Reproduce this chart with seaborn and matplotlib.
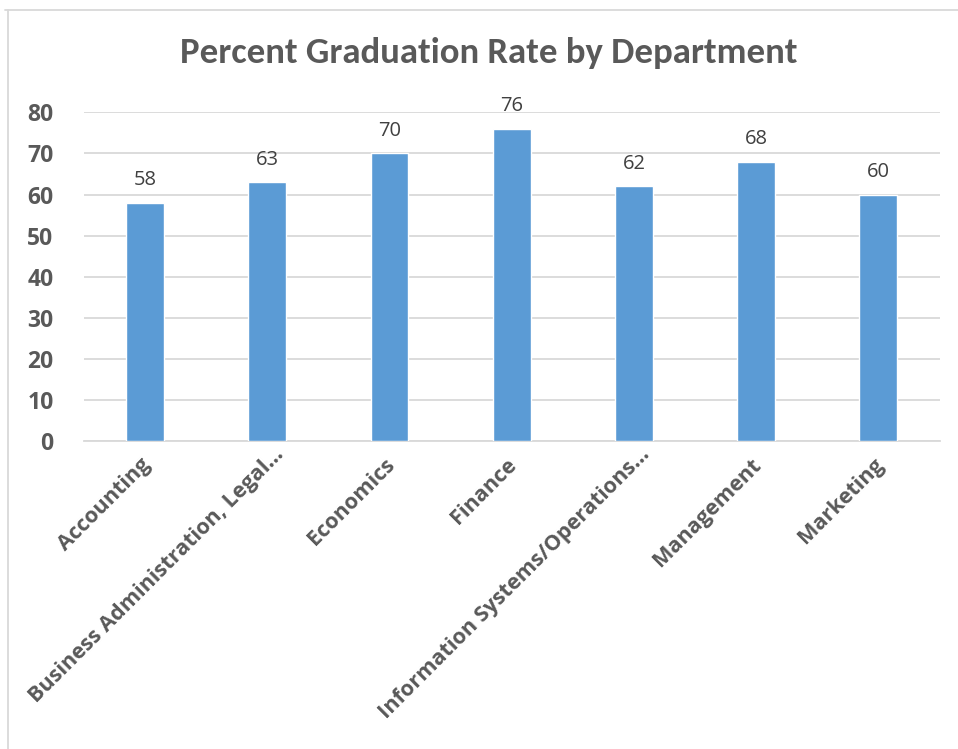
import matplotlib
matplotlib.use("Agg")
import matplotlib.pyplot as plt
import matplotlib.transforms as mtransforms
import seaborn as sns
import pandas as pd
from matplotlib.lines import Line2D

departments = ["Accounting", "Business Administration, Legal…", "Economics", "Finance",
               "Information Systems/Operations…", "Management", "Marketing"]
rates = [58, 63, 70, 76, 62, 68, 60]
y_ticks = [0, 10, 20, 30, 40, 50, 60, 70, 80]

df = pd.DataFrame({"Department": departments, "Rate": rates})

sns.set_theme(style="white")
plt.rcParams['font.family'] = ['Open Sans', 'DejaVu Sans']

TXT = "#595959"
fig = plt.figure(figsize=(9.58, 7.49), dpi=100)
ax = fig.add_axes([0.0877, 0.411, 0.893, 0.439])

sns.barplot(data=df, x="Department", y="Rate", color="#5B9BD5", saturation=1,
            width=0.31, ax=ax, zorder=3)

ax.set_ylim(0, 80)
ax.set_xlim(-0.5, len(departments) - 0.5)
ax.set_yticks(y_ticks)
ax.yaxis.grid(True, color="#D9D9D9", linewidth=1.3, zorder=0)
ax.set_axisbelow(True)
for s in ["top", "right", "left"]:
    ax.spines[s].set_visible(False)
ax.spines["bottom"].set_color("#D9D9D9")
ax.spines["bottom"].set_linewidth(1.3)
ax.tick_params(axis="both", length=0)
ax.tick_params(axis="y", pad=22)
ax.set_xlabel("")
ax.set_ylabel("")

for lab in ax.get_yticklabels():
    lab.set_fontsize(16.5)
    lab.set_fontweight("bold")
    lab.set_color(TXT)

ax.set_xticks(range(len(departments)))
ax.set_xticklabels(departments, rotation=45, ha="right", rotation_mode="anchor",
                   fontsize=15.6, fontweight="bold", color=TXT)
ax.tick_params(axis="x", pad=8)
for lab in ax.get_xticklabels():
    if lab.get_text().endswith("…"):
        shift = mtransforms.ScaledTranslation(4 / 72, 6 / 72, fig.dpi_scale_trans)
    else:
        shift = mtransforms.ScaledTranslation(-4 / 72, -1.5 / 72, fig.dpi_scale_trans)
    lab.set_transform(lab.get_transform() + shift)

for c in ax.containers:
    ax.bar_label(c, labels=[str(v) for v in rates], padding=9, fontsize=14.5, color="#404040")

fig.text(0.510, 0.929, "Percent Graduation Rate by Department", ha="center", va="center",
         fontsize=26.5, fontweight="bold", color=TXT, family=["Carlito", "DejaVu Sans"])

# chart border (top and left visible)
fig.add_artist(Line2D([0.005, 1.0], [0.987, 0.987], color="#D9D9D9", linewidth=1.3,
                      transform=fig.transFigure))
fig.add_artist(Line2D([0.0085, 0.0085], [0.0, 0.987], color="#D9D9D9", linewidth=1.3,
                      transform=fig.transFigure))

fig.savefig("out.png", dpi=100)
